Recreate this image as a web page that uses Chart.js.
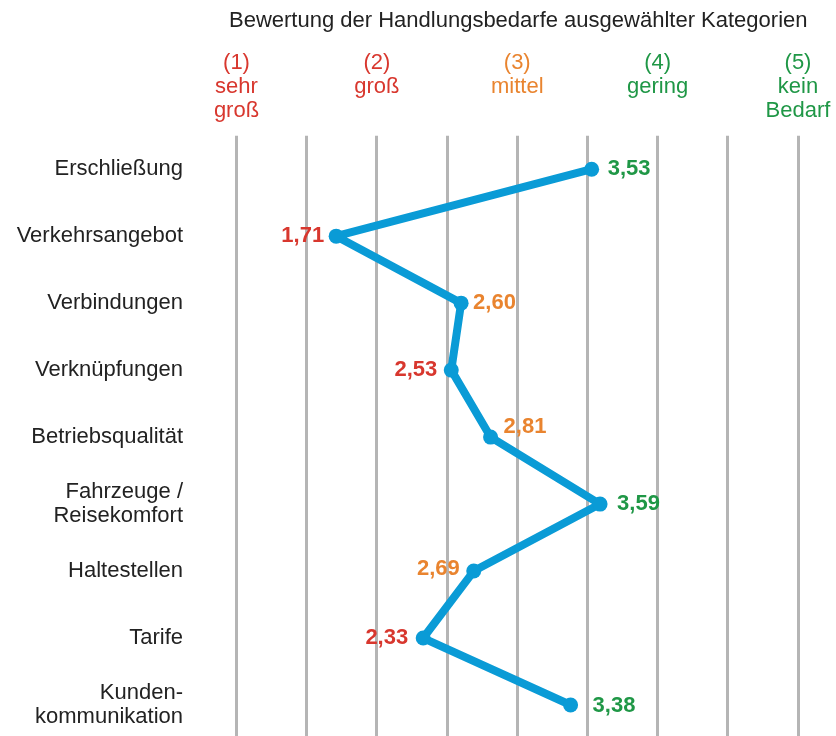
<!DOCTYPE html>
<html lang="de">
<head>
<meta charset="utf-8">
<title>Bewertung der Handlungsbedarfe</title>
<script src="https://cdn.jsdelivr.net/npm/chart.js@4.4.1/dist/chart.umd.min.js"></script>
<style>
  html, body { margin: 0; padding: 0; background: #fff; overflow: hidden; }
  #wrap { width: 836px; height: 736px; overflow: hidden; }
</style>
</head>
<body>
<div id="wrap"><canvas id="bedarf" width="836" height="746"></canvas></div>
<script>
  // Daten
  const kategorien = [
    'Erschließung',
    'Verkehrsangebot',
    'Verbindungen',
    'Verknüpfungen',
    'Betriebsqualität',
    ['Fahrzeuge /', 'Reisekomfort'],
    'Haltestellen',
    'Tarife',
    ['Kunden-', 'kommunikation']
  ];
  const bewertungen = [3.53, 1.71, 2.60, 2.53, 2.81, 3.59, 2.69, 2.33, 3.38];
  const skalaWerte = [1, 2, 3, 4, 5];
  const skalaTexte = [
    ['(1)', 'sehr', 'groß'],
    ['(2)', 'groß'],
    ['(3)', 'mittel'],
    ['(4)', 'gering'],
    ['(5)', 'kein', 'Bedarf']
  ];
  const titel = 'Bewertung der Handlungsbedarfe ausgewählter Kategorien';

  // Farben
  const ROT = '#d8372e';
  const ORANGE = '#e9842f';
  const GRUEN = '#1f9746';
  const BLAU = '#0a9bd6';
  const skalaFarben = [ROT, ROT, ORANGE, GRUEN, GRUEN];
  const SCHRIFT = '"Liberation Sans", Arial, Helvetica, sans-serif';

  // wo die Wertebeschriftung neben dem Punkt steht: [dx, dy, Ausrichtung]
  const labelLage = [
    [16, 0, 'left'],
    [-12, 0, 'right'],
    [12, 0, 'left'],
    [-14, 0, 'right'],
    [13, -10, 'left'],
    [17, 0, 'left'],
    [-14, -2, 'right'],
    [-15, 0, 'right'],
    [22, 1, 'left']
  ];

  function farbeFuer(wert) {
    if (wert < 2.55) return ROT;
    if (wert < 3.3) return ORANGE;
    return GRUEN;
  }

  // Chart.js reserviert sonst Platz für überstehende Beschriftungen
  function ohneRand(s) {
    s.paddingLeft = 0;
    s.paddingRight = 0;
    s.paddingTop = 0;
    s.paddingBottom = 0;
  }

  // Titel über dem Diagrammbereich zentriert (das Title-Plugin würde ihn stauchen)
  const titelPlugin = {
    id: 'titelPlugin',
    afterDraw(chart) {
      const ctx = chart.ctx;
      const a = chart.chartArea;
      ctx.save();
      ctx.font = '22px ' + SCHRIFT;
      ctx.fillStyle = '#222';
      ctx.textAlign = 'center';
      ctx.textBaseline = 'middle';
      ctx.fillText(titel, (a.left + a.right) / 2 + 1, 21);
      ctx.restore();
    }
  };

  const wertLabels = {
    id: 'wertLabels',
    afterDatasetsDraw(chart) {
      const ctx = chart.ctx;
      const meta = chart.getDatasetMeta(0);
      ctx.save();
      ctx.font = 'bold 22px ' + SCHRIFT;
      ctx.textBaseline = 'middle';
      meta.data.forEach((pt, i) => {
        const [dx, dy, align] = labelLage[i];
        const wert = bewertungen[i];
        ctx.fillStyle = farbeFuer(wert);
        ctx.textAlign = align;
        ctx.fillText(wert.toFixed(2).replace('.', ','), pt.x + dx, pt.y + dy);
      });
      ctx.restore();
    }
  };

  new Chart(document.getElementById('bedarf').getContext('2d'), {
    type: 'line',
    data: {
      labels: kategorien,
      datasets: [{
        data: bewertungen,
        xAxisID: 'x',
        yAxisID: 'y',
        borderColor: BLAU,
        borderWidth: 8,
        borderJoinStyle: 'round',
        tension: 0,
        pointRadius: 7.5,
        pointBorderWidth: 0,
        pointBackgroundColor: BLAU,
        pointHoverRadius: 7.5
      }]
    },
    options: {
      indexAxis: 'y',
      responsive: false,
      animation: false,
      devicePixelRatio: 1,
      layout: { padding: { left: 0, right: 38, top: 0, bottom: 1.5 } },
      plugins: {
        legend: { display: false },
        tooltip: { enabled: false },
        title: { display: false }
      },
      scales: {
        x: {
          type: 'linear',
          position: 'bottom',
          min: 1,
          max: 5,
          ticks: { display: false, stepSize: 0.5 },
          grid: { color: '#b5b5b5', lineWidth: 3, drawTicks: false },
          border: { display: false },
          afterFit: s => { s.height = 0; ohneRand(s); }
        },
        x2: {
          type: 'linear',
          position: 'top',
          min: 1,
          max: 5,
          afterBuildTicks: s => { s.ticks = skalaWerte.map(v => ({ value: v })); },
          ticks: {
            callback: v => skalaTexte[skalaWerte.indexOf(v)],
            color: c => skalaFarben[c.index],
            font: { family: SCHRIFT, size: 22, lineHeight: 1.09 },
            padding: 13,
            crossAlign: 'far',
            maxRotation: 0,
            autoSkip: false
          },
          grid: { display: false, drawTicks: false },
          border: { display: false },
          afterFit: s => { s.height = 135.7; ohneRand(s); }
        },
        y: {
          type: 'category',
          position: 'left',
          offset: true,
          ticks: {
            color: '#222',
            font: { family: SCHRIFT, size: 22, lineHeight: 1.09 },
            padding: 53.5
          },
          grid: { display: false, drawTicks: false },
          border: { display: false },
          afterFit: s => { s.width = 236.5; ohneRand(s); }
        }
      }
    },
    plugins: [wertLabels, titelPlugin]
  });
</script>
</body>
</html>
